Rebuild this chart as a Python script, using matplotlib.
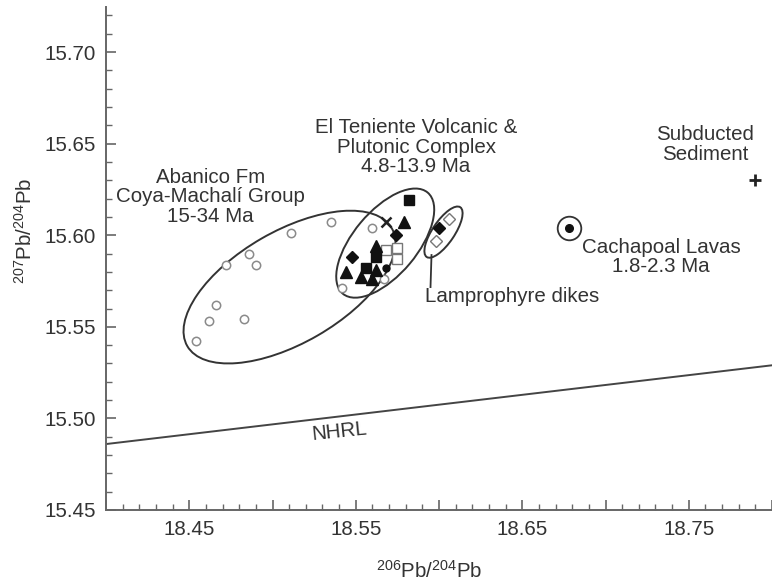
import matplotlib
matplotlib.use('Agg')

import matplotlib.pyplot as plt
from matplotlib.patches import Ellipse
from matplotlib.transforms import ScaledTranslation
from matplotlib.ticker import MultipleLocator, FuncFormatter

# ---------------- data ----------------
abanico_x = [18.535, 18.511, 18.486, 18.490, 18.472, 18.466, 18.462, 18.483, 18.454, 18.542, 18.560, 18.567]
abanico_y = [15.607, 15.601, 15.590, 15.584, 15.584, 15.562, 15.553, 15.554, 15.542, 15.571, 15.604, 15.576]

tri_x = [18.579, 18.562, 18.544, 18.562, 18.553, 18.560]
tri_y = [15.607, 15.594, 15.580, 15.581, 15.577, 15.576]

sq_x = [18.582, 18.562, 18.556]
sq_y = [15.619, 15.588, 15.582]

dia_x = [18.574, 18.548]
dia_y = [15.600, 15.588]

osq_x = [18.568, 18.575, 18.575]
osq_y = [15.592, 15.593, 15.587]

x_x, x_y = [18.568], [15.607]
dot_x, dot_y = [18.568], [15.582]

lamp_open_x = [18.606, 18.598]
lamp_open_y = [15.609, 15.597]
lamp_fill_x, lamp_fill_y = [18.600], [15.604]

cach_x, cach_y = [18.678], [15.604]
sed_x, sed_y = [18.790], [15.630]

nhrl_x = [18.40, 18.80]
nhrl_y = [15.486, 15.529]

# ---------------- style ----------------
plt.rcParams.update({
    "font.family": "Liberation Sans",
    "font.size": 14.8,
    "mathtext.fontset": "custom",
    "mathtext.rm": "Liberation Sans",
    "mathtext.it": "Liberation Sans:italic",
    "mathtext.bf": "Liberation Sans:bold",
})
TXT = '#333333'
AX = '#666666'

fig = plt.figure(figsize=(7.72, 5.87), dpi=100)
ax = fig.add_axes([106/772, 77/587, 666/772, 503/587])
ax.set_xlim(18.40, 18.80)
ax.set_ylim(15.45, 15.7246)

for s in ['top', 'right']:
    ax.spines[s].set_visible(False)
for s in ['left', 'bottom']:
    ax.spines[s].set_color(AX)
    ax.spines[s].set_linewidth(1.4)

ax.xaxis.set_major_locator(MultipleLocator(0.05))
ax.xaxis.set_minor_locator(MultipleLocator(0.01))
ax.yaxis.set_major_locator(MultipleLocator(0.05))
ax.yaxis.set_minor_locator(MultipleLocator(0.01))

def xfmt(v, pos):
    k = int(round(v * 100))
    return f'{v:.2f}' if k % 10 == 5 else ''

ax.xaxis.set_major_formatter(FuncFormatter(xfmt))
ax.yaxis.set_major_formatter(FuncFormatter(lambda v, p: f'{v:.2f}'))
ax.tick_params(which='major', direction='in', length=7, width=1.2, color=AX,
               labelcolor=TXT, labelsize=14.8, pad=7)
ax.tick_params(which='minor', direction='in', length=4, width=1.0, color=AX)

ax.set_xlabel('$^{206}$Pb/$^{204}$Pb', color=TXT, fontsize=14.8)
ax.set_ylabel('$^{207}$Pb/$^{204}$Pb', color=TXT, fontsize=14.8)
ax.xaxis.set_label_coords(0.485, -0.10)
ax.yaxis.set_label_coords(-0.105, 0.555)

# NHRL
ax.plot(nhrl_x, nhrl_y, color='#444444', lw=1.4, zorder=2)
ax.text(18.540, 15.4927, 'NHRL', color=TXT, fontsize=14.8, rotation=6,
        ha='center', va='center')

# ellipses drawn in pixel units around data centres
def ell(cx, cy, w, h, ang):
    tr = fig.dpi_scale_trans + ScaledTranslation(cx, cy, ax.transData)
    ax.add_patch(Ellipse((0, 0), w/100, h/100, angle=ang, transform=tr,
                         fill=False, ec='#333333', lw=1.4, zorder=2))

ell(18.5102, 15.5717, 236, 112, 30)
ell(18.5677, 15.5957, 132, 64, 50)
ell(18.6027, 15.6017, 60, 22, 56)

# markers
ax.plot(abanico_x, abanico_y, 'o', ms=6, mfc='white', mec='#8a8a8a', mew=1.1, zorder=3)
ax.plot(osq_x, osq_y, 's', ms=6.5, mfc='white', mec='#777777', mew=1.0, zorder=3)
ax.plot(tri_x, tri_y, '^', ms=9, color='#111111', zorder=4)
ax.plot(sq_x, sq_y, 's', ms=6.5, color='#111111', zorder=4)
ax.plot(dia_x, dia_y, 'D', ms=6, color='#111111', zorder=4)
ax.plot(x_x, x_y, 'x', ms=7, mew=1.8, color='#222222', zorder=4)
ax.plot(dot_x, dot_y, 'o', ms=5, color='#111111', zorder=4)
ax.plot(lamp_open_x, lamp_open_y, 'D', ms=6, mfc='white', mec='#777777', mew=1.0, zorder=3)
ax.plot(lamp_fill_x, lamp_fill_y, 'D', ms=6, color='#111111', zorder=4)
ax.plot(cach_x, cach_y, 'o', ms=17, mfc='white', mec='#333333', mew=1.3, zorder=3)
ax.plot(cach_x, cach_y, 'o', ms=5.5, color='#111111', zorder=4)
ax.plot(sed_x, sed_y, '+', ms=8, mew=2, color='#222222', zorder=4)

# labels
ax.text(18.4629, 15.6209, 'Abanico Fm\nCoya-Machalí Group\n15-34 Ma', color=TXT,
        ha='center', va='center', linespacing=1.05)
ax.text(18.5862, 15.6481, 'El Teniente Volcanic &\nPlutonic Complex\n4.8-13.9 Ma', color=TXT,
        ha='center', va='center', linespacing=1.05)
ax.text(18.7335, 15.5881, 'Cachapoal Lavas\n1.8-2.3 Ma', color=TXT,
        ha='center', va='center', linespacing=1.05)
ax.text(18.7599, 15.6495, 'Subducted\nSediment', color=TXT,
        ha='center', va='center', linespacing=1.05)
ax.plot([18.5955, 18.5949], [15.5892, 15.5717], color='#333333', lw=1.3)
ax.text(18.5916, 15.5668, 'Lamprophyre dikes', color=TXT, ha='left', va='center')

fig.savefig('out.png', dpi=100)
